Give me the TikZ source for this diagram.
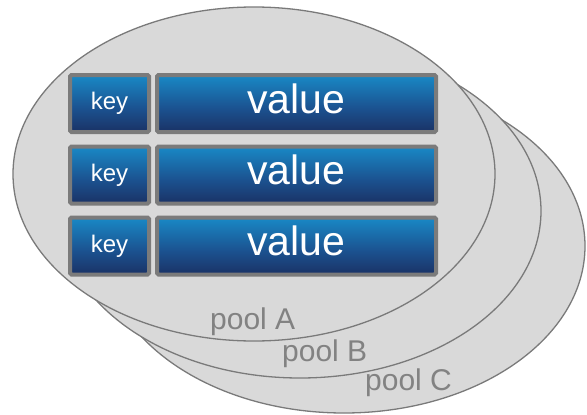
\documentclass[tikz,border=0pt]{standalone}
\usepackage{fontspec}
\setmainfont{Liberation Sans}
\definecolor{poolfill}{HTML}{D9D9D9}
\definecolor{poolline}{HTML}{7A7A7A}
\definecolor{pooltext}{HTML}{828282}
\definecolor{cellframe}{HTML}{7B7B7B}
\definecolor{celltop}{HTML}{1987C4}
\definecolor{cellmid}{HTML}{1B5290}
\definecolor{cellbottom}{HTML}{1A2453}
\pgfdeclareverticalshading{cellshade}{100bp}{%
  color(0bp)=(cellbottom); color(16bp)=(cellbottom);
  color(46bp)=(cellmid); color(74bp)=(celltop); color(100bp)=(celltop)}
\tikzset{
  pool/.style={fill=poolfill, draw=poolline, line width=1.3pt},
  poollabel/.style={anchor=base west, inner sep=0pt, text=pooltext,
    font=\fontsize{30}{30}\selectfont},
  cell/.style={draw=cellframe, line width=4pt, rounded corners=1.5pt,
    shading=cellshade, inner sep=0pt, minimum height=57pt, text=white},
  keycell/.style={cell, minimum width=79pt, font=\fontsize{24}{24}\selectfont},
  valuecell/.style={cell, minimum width=279pt, text depth=10pt,
    font=\fontsize{41}{41}\selectfont}
}
\begin{document}
\begin{tikzpicture}[x=1pt,y=-1pt]
\useasboundingbox (0,0) rectangle (587,415);
% three stacked pools, back to front
\draw[pool] (344,246) ellipse [x radius=241, y radius=167];
\draw[pool] (300,211) ellipse [x radius=241, y radius=167];
\draw[pool] (254,174) ellipse [x radius=241, y radius=167];
% key/value rows
\node[keycell] (k1) at (109.5,103.5) {key};
\node[valuecell] (v1) at (296.5,103.5) {value};
\node[keycell] (k2) at (109.5,175) {key};
\node[valuecell] (v2) at (296.5,175) {value};
\node[keycell] (k3) at (109.5,246) {key};
\node[valuecell] (v3) at (296.5,246) {value};
% pool labels
\node[poollabel] (la) at (210,329) {pool A};
\node[poollabel] (lb) at (282,361) {pool B};
\node[poollabel] (lc) at (365,390) {pool C};
\end{tikzpicture}
\end{document}
